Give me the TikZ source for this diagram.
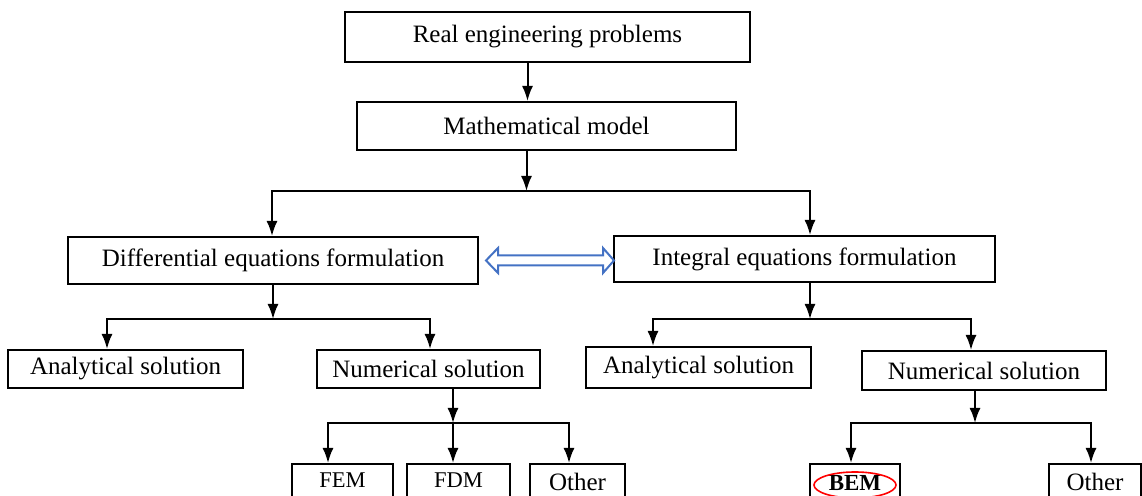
\documentclass[tikz,border=0pt]{standalone}
\usepackage{fontspec}
\setmainfont{Liberation Serif}
\usetikzlibrary{arrows.meta,calc}

\begin{document}
\begin{tikzpicture}[x=0.5pt,y=-0.5pt,
        box/.style={draw,line width=1pt,inner sep=0pt,font=\fontsize{12.5}{15}\selectfont},
        leaf/.style={draw,line width=1pt,anchor=north,inner xsep=0pt,inner ysep=3pt,text height=9pt,text depth=20pt,font=\fontsize{11.25}{13}\selectfont},
        arr/.style={line width=1pt,-{Latex[length=7.5pt,width=5.5pt]}},
        fork/.style={line width=1pt,{Latex[length=7.5pt,width=5.5pt]}-{Latex[length=7.5pt,width=5.5pt]}},
        dbl/.style={draw={rgb,255:red,68;green,114;blue,196},line width=1pt,fill=white,line join=miter}]
        \useasboundingbox (0,0) rectangle (1142,496);
        \clip (0,0) rectangle (1142,496);
        \node[box,minimum width=202.5pt,minimum height=25pt] (real) at (547.5,37) {Real engineering problems};
        \node[box,minimum width=189.5pt,minimum height=24pt] (model) at (546.5,126) {Mathematical model};
        \node[box,minimum width=205pt,minimum height=23.5pt] (diff) at (273,260.5) {Differential equations formulation};
        \node[box,minimum width=190.5pt,minimum height=23pt] (int) at (804.5,259) {Integral equations formulation};
        \node[box,minimum width=117.5pt,minimum height=19pt] (anaL) at (125.5,369) {Analytical solution};
        \node[box,minimum width=111.5pt,minimum height=19pt] (numL) at (428.5,369) {Numerical solution};
        \node[box,minimum width=112.5pt,minimum height=20.5pt] (anaR) at (698.5,367.5) {Analytical solution};
        \node[box,minimum width=122pt,minimum height=19.5pt] (numR) at (984,370.5) {Numerical solution};
        \node[leaf,minimum width=50.5pt] (fem) at (342.5,463) {FEM};
        \node[leaf,minimum width=51.5pt] (fdm) at (458.5,463) {FDM};
        \node[leaf,minimum width=47.5pt,text height=10.5pt,font=\fontsize{12.5}{15}\selectfont] (othL) at (577.5,463) {Other};
        \node[leaf,minimum width=45pt,text height=10.5pt,font=\fontsize{11.5}{14}\selectfont\bfseries] (bem) at (855,463) {BEM};
        \node[leaf,minimum width=46pt,text height=10.5pt,font=\fontsize{12.5}{15}\selectfont] (othR) at (1095,463) {Other};
        \draw[red,line width=0.8pt] ([yshift=3pt]bem.base) ellipse [x radius=20.5pt,y radius=6.5pt];

        \draw[arr] ([xshift=-10pt]real.south) -- ([xshift=-10pt]real.south |- model.north);
        \draw[arr] ([xshift=-10pt]model.south) -- ++(0,40) coordinate (f1);
        \draw[fork] ([xshift=-0.5pt]diff.north) |- (f1) -| ([xshift=2.75pt]int.north);

        \draw[arr] (diff.south) -- ++(0,34) coordinate (f2);
        \draw[fork] ([xshift=-9.25pt]anaL.north) |- (f2) -| ([xshift=0.75pt]numL.north);
        \draw[arr] ([xshift=12.25pt]numL.south) -- ++(0,34) coordinate (f3);
        \draw[fork] ([xshift=-7.25pt]fem.north) |- (f3) -| ([xshift=-4.25pt]othL.north);
        \draw[arr] (f3) -- (f3 |- fdm.north);

        \draw[arr] ([xshift=2.75pt]int.south) -- ++(0,36) coordinate (f4);
        \draw[fork] ([xshift=-22.75pt]anaR.north) |- (f4) -| ([xshift=-6.5pt]numR.north);
        \draw[arr] ([xshift=-4.5pt]numR.south) -- ++(0,32) coordinate (f5);
        \draw[fork] ([xshift=-2pt]bem.north) |- (f5) -| ([xshift=-2pt]othR.north);

        \draw[dbl] ($(diff.east)+(7,0)$) -- ++(12,-12.5) -- ++(0,7.5) -- ++(105,0) -- ++(0,-7.5)
            -- ++(11,12.5) -- ++(-11,12.5) -- ++(0,-7.5) -- ++(-105,0) -- ++(0,7.5) -- cycle;
    \end{tikzpicture}
\end{document}
